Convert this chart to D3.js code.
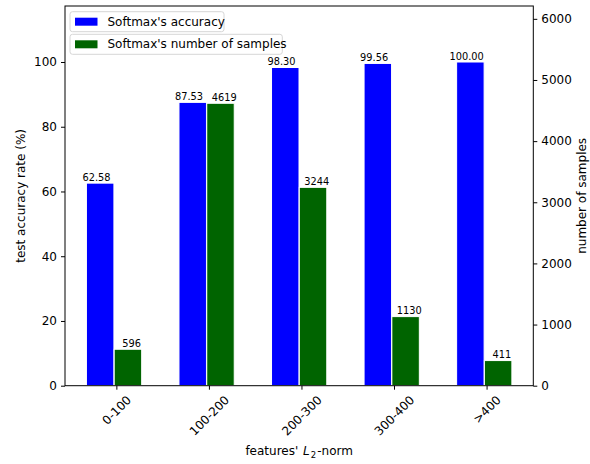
<!DOCTYPE html>
<html>
<head>
<meta charset="utf-8">
<script src="https://cdn.jsdelivr.net/npm/d3@7"></script>
<style>
  html, body { margin: 0; padding: 0; background: #fff; }
  svg text { font-family: "DejaVu Sans", sans-serif; fill: #000; }
</style>
</head>
<body>
<svg id="chart" width="590" height="464"></svg>
<script>
// Feature-norm buckets and the two measured series
const categories = ["0-100", "100-200", "200-300", "300-400", ">400"];
const accuracy = [62.58, 87.53, 98.30, 99.56, 100.00];
const samples = [596, 4619, 3244, 1130, 411];
const accuracyTicks = [0, 20, 40, 60, 80, 100];
const sampleTicks = [0, 1000, 2000, 3000, 4000, 5000, 6000];

const plotL = 65, plotR = 533.3, plotT = 6, plotB = 385.7;
const barW = 0.297;

const svg = d3.select("#chart");

// Category index axis with matplotlib-like margins around the bars
const x = d3.scaleLinear().domain([-0.555, 4.505]).range([plotL, plotR]);
const yAcc = d3.scaleLinear().domain([0, 117.3]).range([plotB, plotT]);
const ySmp = d3.scaleLinear().domain([0, 6210]).range([plotB, plotT]);

// Accuracy bars (left of each tick)
svg.append("g").selectAll("rect").data(accuracy).join("rect")
  .attr("x", (d, i) => x(i - 0.175 - barW / 2))
  .attr("width", x(barW) - x(0))
  .attr("y", d => yAcc(d))
  .attr("height", d => plotB - yAcc(d))
  .attr("fill", "#0000ff")
  .attr("stroke", "#fff").attr("stroke-width", 1);

// Sample count bars (right of each tick)
svg.append("g").selectAll("rect").data(samples).join("rect")
  .attr("x", (d, i) => x(i + 0.125 - barW / 2))
  .attr("width", x(barW) - x(0))
  .attr("y", d => ySmp(d))
  .attr("height", d => plotB - ySmp(d))
  .attr("fill", "#006400")
  .attr("stroke", "#fff").attr("stroke-width", 1);

// Value labels
svg.append("g").selectAll("text").data(accuracy).join("text")
  .attr("x", (d, i) => x(i - 0.175 - 0.04))
  .attr("y", d => yAcc(d) - 2.5)
  .attr("text-anchor", "middle")
  .attr("font-size", 9.8)
  .text(d => d.toFixed(2));

svg.append("g").selectAll("text").data(samples).join("text")
  .attr("x", (d, i) => x(i + 0.125 + 0.04))
  .attr("y", d => ySmp(d) - 2.5)
  .attr("text-anchor", "middle")
  .attr("font-size", 9.8)
  .text(d => d);

// Axes
const fontPx = 12;
const leftAxis = d3.axisLeft(yAcc).tickValues(accuracyTicks).tickFormat(d3.format("d"))
  .tickSize(4).tickPadding(4);
const rightAxis = d3.axisRight(ySmp).tickValues(sampleTicks).tickFormat(d3.format("d"))
  .tickSize(4).tickPadding(4);
const bottomAxis = d3.axisBottom(x).tickValues(d3.range(categories.length))
  .tickFormat(i => categories[i]).tickSize(4).tickPadding(4);

function styleAxis(g) {
  g.select(".domain").remove();
  g.selectAll("text").attr("font-size", fontPx).attr("font-family", "DejaVu Sans, sans-serif").attr("fill", "#000");
  g.selectAll("line").attr("stroke", "#000").attr("stroke-width", 1);
}

svg.append("g").attr("transform", `translate(${plotL},0)`).call(leftAxis).call(styleAxis);
svg.append("g").attr("transform", `translate(${plotR},0)`).call(rightAxis).call(styleAxis);

const xg = svg.append("g").attr("transform", `translate(0,${plotB})`).call(bottomAxis).call(styleAxis);
// Rotate category labels by 45 degrees, centred under each tick
xg.selectAll(".tick text").each(function () {
  const t = d3.select(this);
  const w = this.getComputedTextLength();
  const h = fontPx * 1.0;
  const boxH = (w + h) * Math.SQRT1_2;
  t.attr("y", null).attr("dy", null)
    .attr("text-anchor", "middle")
    .attr("dominant-baseline", "central")
    .attr("transform", `translate(0,${8 + boxH / 2}) rotate(-45)`);
});

// Frame
svg.append("rect")
  .attr("x", plotL).attr("y", plotT)
  .attr("width", plotR - plotL).attr("height", plotB - plotT)
  .attr("fill", "none").attr("stroke", "#000").attr("stroke-width", 1);

// Axis titles
svg.append("text")
  .attr("transform", `translate(21,${(plotT + plotB) / 2}) rotate(-90)`)
  .attr("text-anchor", "middle").attr("dominant-baseline", "central")
  .attr("font-size", 12).text("test accuracy rate (%)");

svg.append("text")
  .attr("transform", `translate(582,${(plotT + plotB) / 2}) rotate(-90)`)
  .attr("text-anchor", "middle").attr("dominant-baseline", "central")
  .attr("font-size", 12).text("number of samples");

const xl = svg.append("text")
  .attr("x", (plotL + plotR) / 2).attr("y", 455)
  .attr("text-anchor", "middle").attr("font-size", 12);
xl.append("tspan").text("features' ");
xl.append("tspan").attr("font-style", "italic").attr("dx", 1).text("L");
xl.append("tspan").attr("font-size", 8.5).attr("dy", 3).attr("dx", 1).text("2");
xl.append("tspan").attr("dy", -3).attr("dx", 1).text("-norm");

// Legends: one framed box per series
const legends = [
  { label: "Softmax's accuracy", color: "#0000ff", y: 11.7, w: 154 },
  { label: "Softmax's number of samples", color: "#006400", y: 34.3, w: 212.3 }
];
const lg = svg.append("g").selectAll("g").data(legends).join("g")
  .attr("transform", d => `translate(70,${d.y})`);
lg.append("rect")
  .attr("width", d => d.w).attr("height", 20)
  .attr("rx", 2.5).attr("fill", "#fff").attr("fill-opacity", 0.8)
  .attr("stroke", "#d6d6d6").attr("stroke-width", 1);
lg.append("rect")
  .attr("x", 5).attr("y", 6).attr("width", 22.5).attr("height", 8)
  .attr("fill", d => d.color);
lg.append("text")
  .attr("x", 37.5).attr("y", 10).attr("dominant-baseline", "central")
  .attr("font-size", 12).text(d => d.label);
</script>
</body>
</html>
